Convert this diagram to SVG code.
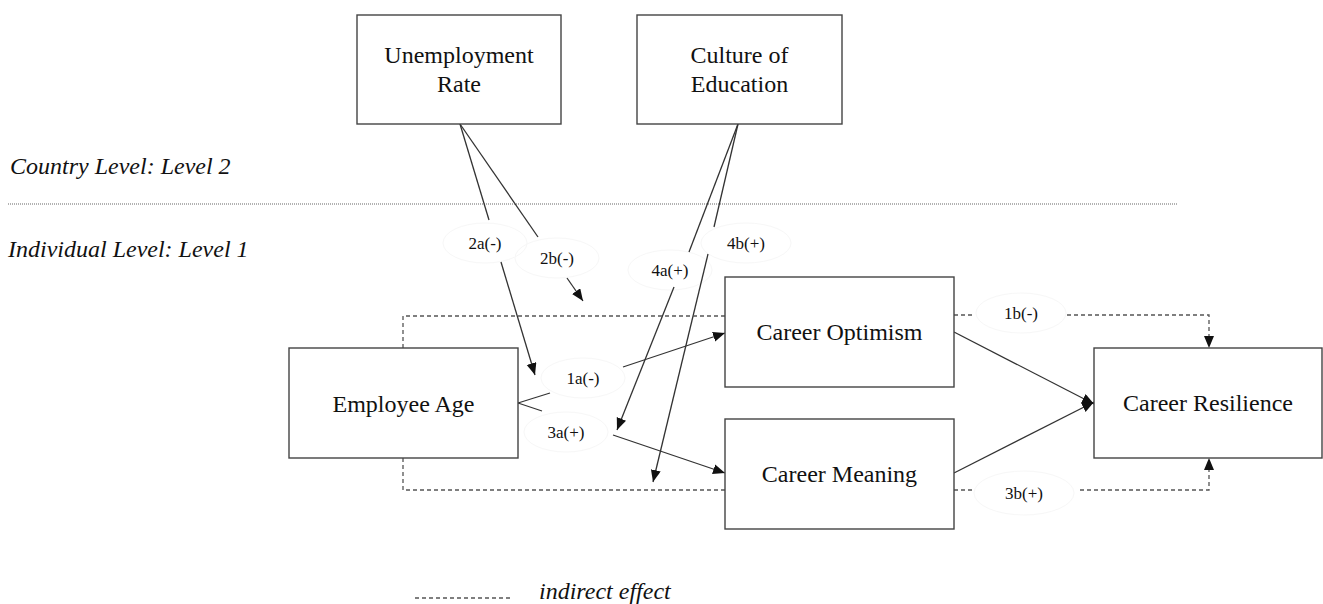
<svg xmlns="http://www.w3.org/2000/svg" width="1323" height="604" viewBox="0 0 1323 604">
<style>
.box{fill:#fff;stroke:#444;stroke-width:1.4}
.t{font-family:"Liberation Serif","Times New Roman",serif;font-size:24px;fill:#111;text-anchor:middle}
.lvl{font-family:"Liberation Serif","Times New Roman",serif;font-size:24px;font-style:italic;fill:#111}
.lab{font-family:"Liberation Serif","Times New Roman",serif;font-size:17px;fill:#111;text-anchor:middle}
.ln{fill:none;stroke:#333;stroke-width:1.3}
.ds{fill:none;stroke:#555;stroke-width:1.3;stroke-dasharray:4 3}
.ell{fill:none;stroke:#f7f7f7;stroke-width:1}
</style>
<defs>
<marker id="ah" markerUnits="userSpaceOnUse" markerWidth="14" markerHeight="12" refX="12" refY="5" orient="auto">
<path d="M0,0 L12,5 L0,10 z" fill="#111"/>
</marker>
</defs>
<g id="levels">
<text class="lvl" x="10" y="174">Country Level: Level 2</text>
<line x1="8" y1="204" x2="1178" y2="204" stroke="#666" stroke-width="1.2" stroke-dasharray="1 1"/>
<text class="lvl" x="8" y="257">Individual Level: Level 1</text>
</g>
<g id="legend">
<line class="ds" x1="415" y1="598" x2="513" y2="598" stroke-dasharray="3 2" stroke-width="1"/>
<text class="lvl" x="539" y="599" font-size="23">indirect effect</text>
</g>
<g id="label-ellipses">
<ellipse class="ell" cx="583" cy="378" rx="42" ry="20"/>
<ellipse class="ell" cx="566" cy="432" rx="42" ry="20"/>
<ellipse class="ell" cx="485" cy="243" rx="42" ry="20"/>
<ellipse class="ell" cx="557" cy="258" rx="42" ry="20"/>
<ellipse class="ell" cx="670" cy="270" rx="42" ry="20"/>
<ellipse class="ell" cx="746" cy="243" rx="45" ry="20"/>
<ellipse class="ell" cx="1021" cy="313" rx="45" ry="20"/>
<ellipse class="ell" cx="1024" cy="493" rx="50" ry="22"/>
</g>
<g id="connectors">
<line class="ln" x1="460" y1="124" x2="489" y2="220"/>
<line class="ln" x1="501" y1="262" x2="535" y2="375" marker-end="url(#ah)"/>
<line class="ln" x1="460" y1="124" x2="538" y2="237"/>
<line class="ln" x1="567" y1="278" x2="583" y2="301" marker-end="url(#ah)"/>
<line class="ln" x1="738" y1="124" x2="689" y2="252"/>
<line class="ln" x1="674" y1="287" x2="617" y2="430" marker-end="url(#ah)"/>
<line class="ln" x1="738" y1="124" x2="714" y2="227"/>
<line class="ln" x1="708" y1="254" x2="653" y2="482" marker-end="url(#ah)"/>
<line class="ln" x1="550" y1="393" x2="518" y2="403"/>
<line class="ln" x1="623" y1="367" x2="725" y2="333" marker-end="url(#ah)"/>
<line class="ln" x1="542" y1="411" x2="518" y2="403"/>
<line class="ln" x1="613" y1="435" x2="725" y2="473" marker-end="url(#ah)"/>
<line class="ln" x1="954" y1="332" x2="1094" y2="404" marker-end="url(#ah)"/>
<line class="ln" x1="954" y1="473" x2="1094" y2="402" marker-end="url(#ah)"/>
<polyline class="ds" points="403,348 403,316 725,316"/>
<polyline class="ds" points="403,458 403,490 725,490"/>
<line class="ds" x1="954" y1="315" x2="975" y2="315"/>
<polyline class="ds" points="1067,315 1209,315 1209,348" marker-end="url(#ah)"/>
<line class="ds" x1="954" y1="490" x2="973" y2="490"/>
<polyline class="ds" points="1080,490 1209,490 1209,458" marker-end="url(#ah)"/>
</g>
<g id="labels">
<text class="lab" x="583" y="384">1a(-)</text>
<text class="lab" x="566" y="438">3a(+)</text>
<text class="lab" x="485" y="249">2a(-)</text>
<text class="lab" x="557" y="264">2b(-)</text>
<text class="lab" x="670" y="276">4a(+)</text>
<text class="lab" x="746" y="249">4b(+)</text>
<text class="lab" x="1021" y="319">1b(-)</text>
<text class="lab" x="1024" y="499">3b(+)</text>
</g>
<g id="unemployment-rate">
<rect class="box" x="357" y="15" width="204" height="109"/>
<text class="t" x="459" y="63">Unemployment</text>
<text class="t" x="459" y="92">Rate</text>
</g>
<g id="culture-of-education">
<rect class="box" x="637" y="15" width="205" height="109"/>
<text class="t" x="739.5" y="63">Culture of</text>
<text class="t" x="739.5" y="92">Education</text>
</g>
<g id="employee-age">
<rect class="box" x="289" y="348" width="229" height="110"/>
<text class="t" x="403.5" y="412">Employee Age</text>
</g>
<g id="career-optimism">
<rect class="box" x="725" y="277" width="229" height="110"/>
<text class="t" x="839.5" y="340">Career Optimism</text>
</g>
<g id="career-meaning">
<rect class="box" x="725" y="419" width="229" height="110"/>
<text class="t" x="839.5" y="482">Career Meaning</text>
</g>
<g id="career-resilience">
<rect class="box" x="1094" y="348" width="228" height="110"/>
<text class="t" x="1208" y="411">Career Resilience</text>
</g>
</svg>
